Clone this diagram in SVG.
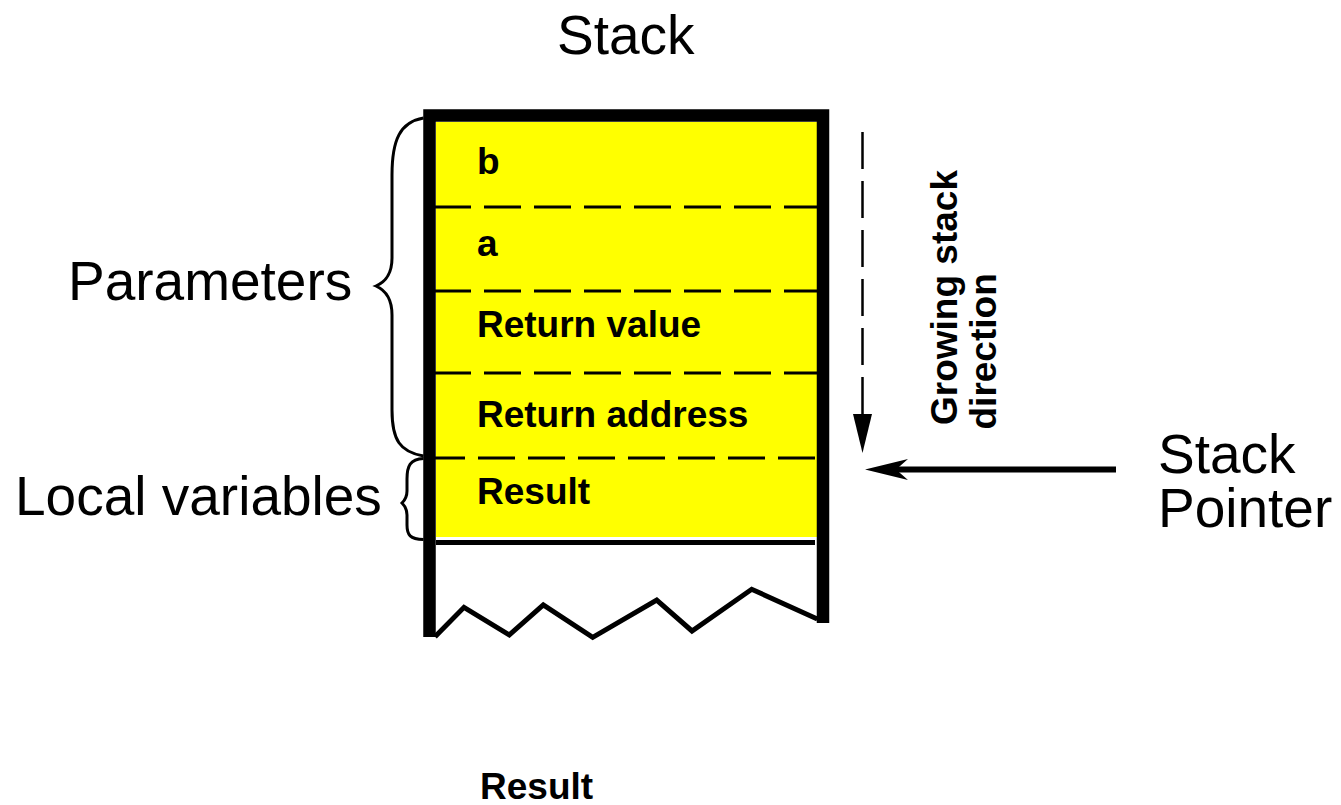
<svg xmlns="http://www.w3.org/2000/svg" width="1341" height="805" viewBox="0 0 1341 805">
<style>
.big{font-family:"Liberation Sans",Arial,sans-serif;font-size:55px;fill:#000}
.lbl{font-family:"Liberation Sans",Arial,sans-serif;font-size:37px;font-weight:bold;fill:#000}
.dash{stroke:#000;stroke-width:3;stroke-dasharray:37 13;fill:none}
.brace{fill:none;stroke:#000;stroke-width:3}
</style>
<rect width="1341" height="805" fill="#fff"/>
<text class="big" x="557" y="54">Stack</text>
<g id="stack">
<rect x="436" y="122" width="381" height="415" fill="#ffff00"/>
<g id="cell-b"><text class="lbl" x="477" y="174">b</text></g>
<line class="dash" x1="434" y1="207" x2="817" y2="207"/>
<g id="cell-a"><text class="lbl" x="477" y="256">a</text></g>
<line class="dash" x1="434" y1="291" x2="817" y2="291"/>
<g id="cell-retval"><text class="lbl" x="477" y="337">Return value</text></g>
<line class="dash" x1="434" y1="373" x2="817" y2="373"/>
<g id="cell-retaddr"><text class="lbl" x="477" y="427">Return address</text></g>
<line class="dash" x1="428" y1="458" x2="817" y2="458"/>
<g id="cell-result"><text class="lbl" x="477" y="504">Result</text></g>
<line x1="436" y1="542.5" x2="815" y2="542.5" stroke="#000" stroke-width="5"/>
<path d="M429.5,637 V115.5 H823 V623" fill="none" stroke="#000" stroke-width="12.5" stroke-linejoin="miter"/>
<polyline points="435,636.7 464,607.3 509.3,635 543.3,605 592.7,637.3 656.7,600 692,631 751.7,589.3 817.3,619" fill="none" stroke="#000" stroke-width="5"/>
</g>
<g id="parameters">
<path class="brace" d="M423.5,118 C400,122 392,140 392,175 L392,258 C392,275 385,282 376,286 C385,290 392,298 392,315 L392,410 C392,440 400,452 423.5,456"/>
<text class="big" x="68" y="300">Parameters</text>
</g>
<g id="locals">
<path class="brace" d="M423.5,458.5 C410,459 407,466 407,479 L407,491 C407,497 405,500 402,503 C405,506 407,509 407,515 L407,525 C407,535 410,539 423.5,539.5"/>
<text class="big" x="15" y="515">Local variables</text>
</g>
<g id="direction">
<text class="lbl" transform="translate(957,425) rotate(-90)">Growing stack</text>
<text class="lbl" transform="translate(996,429.5) rotate(-90)">direction</text>
</g>
<g id="sp">
<text class="big" x="1158" y="473">Stack</text>
<text class="big" x="1158" y="527">Pointer</text>
</g>
<g id="connectors">
<line x1="862.5" y1="132" x2="862.5" y2="416" stroke="#000" stroke-width="2.5" stroke-dasharray="37 12"/>
<polygon points="853,414 872,414 862.5,453" fill="#000"/>
<line x1="1116" y1="469.5" x2="895" y2="469.5" stroke="#000" stroke-width="6"/>
<polygon points="865,469.5 908,459 896,469.5 908,480" fill="#000"/>
</g>
<text class="lbl" x="480" y="799">Result</text>
</svg>
